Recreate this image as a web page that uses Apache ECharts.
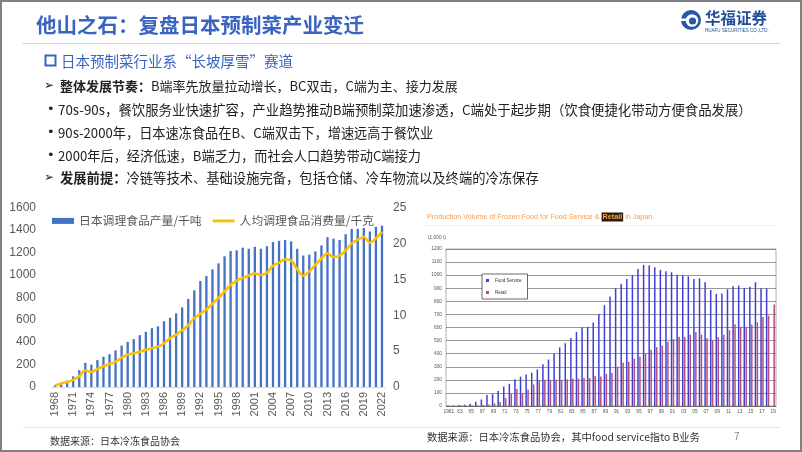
<!DOCTYPE html>
<html><head><meta charset="utf-8">
<script src="https://cdn.jsdelivr.net/npm/echarts@6/dist/echarts.min.js"></script>
<style>html,body{margin:0;padding:0;background:#fff}#c{width:802px;height:452px}</style>
</head><body><div id="c"></div>
<script>
// ---------- Left chart data ----------
const leftYears = ['1968','1969','1970','1971','1972','1973','1974','1975','1976','1977',
'1978','1979','1980','1981','1982','1983','1984','1985','1986','1987',
'1988','1989','1990','1991','1992','1993','1994','1995','1996','1997',
'1998','1999','2000','2001','2002','2003','2004','2005','2006','2007',
'2008','2009','2010','2011','2012','2013','2014','2015','2016','2017',
'2018','2019','2020','2021','2022'];
const productionKt = [15,36,57,95,150,215,200,240,270,292,
327,369,402,427,462,492,524,541,586,617,
656,710,785,862,945,989,1049,1102,1165,1212,
1218,1242,1232,1250,1232,1255,1292,1303,1310,1298,
1232,1172,1180,1208,1262,1336,1322,1310,1362,1410,
1410,1418,1386,1428,1438];
const perCapitaKg = [0.2,0.5,0.7,1.0,1.5,2.3,2.1,2.5,2.9,3.2,
3.5,4.1,4.5,4.7,4.9,5.2,5.4,5.6,6.1,6.8,
7.3,7.9,8.6,9.6,10.2,10.8,11.6,12.4,13.3,14.2,
14.8,15.2,15.5,15.8,15.6,15.9,16.9,17.3,17.8,17.6,
16.4,15.5,16.1,17.0,17.9,18.6,18.1,18.3,19.0,20.0,
20.5,20.9,20.1,20.7,21.6];
const leftNames = ['日本调理食品产量/千吨','人均调理食品消费量/千克'];

// ---------- Right chart data ----------
const rightYears = ['1961','1962','1963','1964','1965','1966','1967','1968','1969','1970',
'1971','1972','1973','1974','1975','1976','1977','1978','1979','1980',
'1981','1982','1983','1984','1985','1986','1987','1988','1989','1990',
'1991','1992','1993','1994','1995','1996','1997','1998','1999','2000',
'2001','2002','2003','2004','2005','2006','2007','2008','2009','2010',
'2011','2012','2013','2014','2015','2016','2017','2018','2019'];
const foodService = [3,5,8,10,18,32,50,85,90,115,
150,170,205,225,240,255,280,320,355,400,
448,480,520,565,600,605,638,704,770,836,
900,933,971,1000,1047,1078,1075,1060,1040,1030,
1022,1004,1000,991,971,976,946,887,856,860,
892,915,920,902,912,946,900,897,null];
const retail = [0,0,1,1,3,5,8,12,20,30,
60,95,130,100,125,165,195,200,200,200,
200,205,210,210,215,215,230,225,245,255,
300,330,338,362,376,400,430,450,462,490,
512,530,528,546,566,545,518,505,525,545,
580,624,605,605,622,640,680,690,775];
const rightNames = ['Food Service','Retail'];

const CJK = '"Noto Sans CJK SC", "DejaVu Sans", sans-serif';
const LAT = '"Liberation Sans", Arial, sans-serif';

function txt(x, y, text, font, fill, extra) {
  return Object.assign({type:'text', x:x, y:y, silent:true,
    style: Object.assign({text:text, font:font, fill:fill, verticalAlign:'middle', align:'left'}, extra||{})});
}
const plain = function(v){ return String(v); };

const chart = echarts.init(document.getElementById('c'), null, {renderer:'canvas'});
const option = {
  backgroundColor:'#ffffff',
  animation:false,
  legend:[{
    data:[{name:leftNames[0], icon:'rect'}, {name:leftNames[1], icon:'path://M0,0H24V3H0Z'}],
    left:47, top:210, itemWidth:22, itemHeight:6, itemGap:11,
    textStyle:{fontSize:11.8, color:'#595959', fontFamily:CJK}
  },{
    data:rightNames, orient:'vertical', left:482, top:274,
    backgroundColor:'#fff', borderColor:'#444', borderWidth:0.8,
    padding:[4,6,4,4], itemWidth:3, itemHeight:3, itemGap:7, icon:'rect',
    textStyle:{fontSize:4.5, color:'#333', fontFamily:LAT, padding:[0,0,0,1]}
  }],
  grid:[
    {left:52, top:207.5, width:333, height:179.5},
    {left:446, top:249, width:330, height:157, show:true, borderColor:'#999', borderWidth:0.8, backgroundColor:'#fff'}
  ],
  xAxis:[{
    type:'category', gridIndex:0, data:leftYears,
    axisTick:{show:false}, axisLine:{lineStyle:{color:'#d9d9d9'}},
    axisLabel:{rotate:90, interval:2, fontSize:11, color:'#595959', margin:5, fontFamily:LAT}
  },{
    type:'category', gridIndex:1, data:rightYears,
    axisTick:{show:false}, axisLine:{lineStyle:{color:'#666', width:0.8}},
    axisLabel:{interval:1, fontSize:4.8, color:'#555', margin:3, fontFamily:LAT,
      formatter:function(v,i){return i===0? v : v.slice(2);}}
  }],
  yAxis:[{
    type:'value', gridIndex:0, min:0, max:1600, interval:200,
    splitLine:{show:false}, axisLine:{show:false}, axisTick:{show:false},
    axisLabel:{fontSize:12, color:'#595959', margin:16, fontFamily:LAT, formatter:plain}
  },{
    type:'value', gridIndex:0, min:0, max:25, interval:5, position:'right',
    splitLine:{show:false}, axisLine:{show:false}, axisTick:{show:false},
    axisLabel:{fontSize:12, color:'#595959', margin:8, fontFamily:LAT, formatter:plain}
  },{
    type:'value', gridIndex:1, min:0, max:1200, interval:100,
    splitLine:{lineStyle:{color:'#6a6a6a', width:0.7}}, axisLine:{show:false}, axisTick:{show:false},
    axisLabel:{fontSize:4.8, color:'#555', margin:4, fontFamily:LAT, formatter:plain}
  }],
  series:[{
    name:leftNames[0], type:'bar', xAxisIndex:0, yAxisIndex:0, data:productionKt,
    barWidth:2.3, itemStyle:{color:'#4472C4'}
  },{
    name:leftNames[1], type:'line', xAxisIndex:0, yAxisIndex:1, data:perCapitaKg,
    smooth:0.4, symbol:'none', lineStyle:{color:'#FFC000', width:2.6}, itemStyle:{color:'#FFC000'}
  },{
    name:rightNames[0], type:'bar', xAxisIndex:1, yAxisIndex:2, data:foodService,
    barWidth:1.5, barGap:'30%', itemStyle:{color:'#3f3fd6'}
  },{
    name:rightNames[1], type:'bar', xAxisIndex:1, yAxisIndex:2, data:retail,
    barWidth:1.5, itemStyle:{color:'#b54f80'}
  }],
  graphic:[
    {type:'rect', shape:{x:1,y:1,width:800,height:450}, style:{fill:'none', stroke:'#808080', lineWidth:2}, silent:true},
    txt(36, 25, '他山之石：复盘日本预制菜产业变迁', 'bold 20.5px '+CJK, '#3b64c0'),
    {type:'line', shape:{x1:22,y1:43.5,x2:780,y2:43.5}, style:{stroke:'#d9d9d9', lineWidth:1}, silent:true},
    {type:'circle', shape:{cx:691, cy:20, r:10}, style:{fill:'#2657a8'}, silent:true},
    {type:'circle', shape:{cx:692, cy:20.5, r:6.3}, style:{fill:'#fff'}, silent:true},
    {type:'circle', shape:{cx:692.5, cy:21, r:3.6}, style:{fill:'#2657a8'}, silent:true},
    {type:'rect', shape:{x:681,y:18.5,width:6,height:2.5}, style:{fill:'#fff'}, silent:true},
    txt(705, 18, '华福证券', 'bold 15.5px '+CJK, '#1f4e9c'),
    txt(705, 31, 'HUAFU SECURITIES CO.,LTD.', '4.5px '+LAT, '#1f4e9c'),
    {type:'rect', shape:{x:45.5,y:55.5,width:10,height:10}, style:{fill:'none', stroke:'#3b64c0', lineWidth:2}, silent:true},
    txt(61, 61, '日本预制菜行业系“长坡厚雪”赛道', '14.5px '+CJK, '#3b64c0'),
    txt(44, 86, '➢', '12px "DejaVu Sans", sans-serif', '#222'),
    txt(60, 86, '整体发展节奏：', 'bold 13px '+CJK, '#222'),
    txt(151, 86, 'B端率先放量拉动增长，BC双击，C端为主、接力发展', '13px '+CJK, '#222'),
    txt(47, 110, '•', '13px "DejaVu Sans", sans-serif', '#222'),
    txt(58, 110, '70s-90s，餐饮服务业快速扩容，产业趋势推动B端预制菜加速渗透，C端处于起步期（饮食便捷化带动方便食品发展）', '13.4px '+CJK, '#222'),
    txt(47, 133, '•', '13px "DejaVu Sans", sans-serif', '#222'),
    txt(58, 133, '90s-2000年，日本速冻食品在B、C端双击下，增速远高于餐饮业', '13.2px '+CJK, '#222'),
    txt(47, 156, '•', '13px "DejaVu Sans", sans-serif', '#222'),
    txt(58, 156, '2000年后，经济低速，B端乏力，而社会人口趋势带动C端接力', '13.2px '+CJK, '#222'),
    txt(44, 178, '➢', '12px "DejaVu Sans", sans-serif', '#222'),
    txt(60, 178, '发展前提：', 'bold 13.3px '+CJK, '#222'),
    txt(126.5, 178, '冷链等技术、基础设施完备，包括仓储、冷车物流以及终端的冷冻保存', '13.3px '+CJK, '#222'),
    {type:'text', x:427, y:217, silent:true, style:{
      text:'Production Volume of Frozen Food for Food Service & {h|Retail} in Japan',
      font:'7.2px '+LAT, fill:'#eea050', verticalAlign:'middle',
      rich:{h:{backgroundColor:'#2b1a0c', fill:'#f5a84a', font:'bold 7.2px '+LAT, padding:[1,1]}}}},
    {type:'line', shape:{x1:425,y1:225.5,x2:775,y2:225.5}, style:{stroke:'#eeeeee', lineWidth:1}, silent:true},
    txt(428, 238, '(1,000 t)', '4.8px '+LAT, '#555'),
    {type:'line', shape:{x1:23,y1:427.5,x2:780,y2:427.5}, style:{stroke:'#e3e3e3', lineWidth:1}, silent:true},
    txt(50, 441, '数据来源：日本冷冻食品协会', '10px '+CJK, '#333'),
    txt(427, 437, '数据来源：日本冷冻食品协会，其中food service指to B业务', '10.3px '+CJK, '#333'),
    txt(734, 437, '7', '10px '+LAT, '#888')
  ]
};
chart.setOption(option);
</script>
</body></html>
